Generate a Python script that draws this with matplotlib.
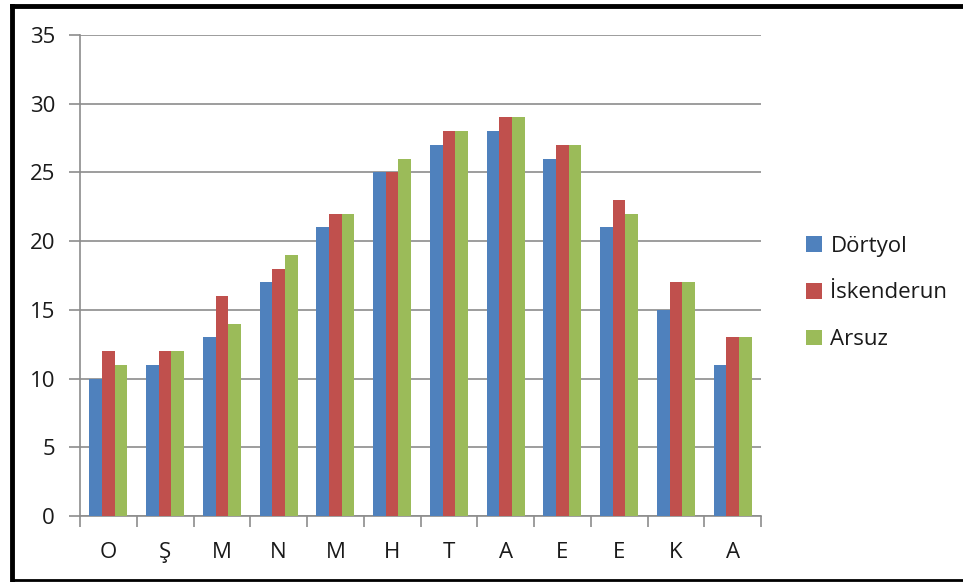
import matplotlib
matplotlib.use("Agg")
import matplotlib.pyplot as plt
import numpy as np
from matplotlib.lines import Line2D
from matplotlib.patches import Patch

months = ["O", "Ş", "M", "N", "M", "H", "T", "A", "E", "E", "K", "A"]
dortyol = [10, 11, 13, 17, 21, 25, 27, 28, 26, 21, 15, 11]
iskenderun = [12, 12, 16, 18, 22, 25, 28, 29, 27, 23, 17, 13]
arsuz = [11, 12, 14, 19, 22, 26, 28, 29, 27, 22, 17, 13]

series = [("Dörtyol", dortyol, "#4F81BD"),
          ("İskenderun", iskenderun, "#C0504D"),
          ("Arsuz", arsuz, "#9BBB59")]

plt.rcParams["font.family"] = ["Open Sans", "DejaVu Sans"]
plt.rcParams["text.color"] = "#1A1A1A"

W, H = 963, 582
fig = plt.figure(figsize=(W / 100, H / 100), dpi=100)
ax = fig.add_axes([80 / W, 1 - 516 / H, (761 - 80) / W, (516 - 35) / H])

x = np.arange(len(months))
bw = 0.223
for i, (name, vals, col) in enumerate(series):
    ax.bar(x + (i - 1) * bw, vals, width=bw, color=col, label=name, zorder=3)

ax.set_xlim(-0.5, len(months) - 0.5)
ax.set_ylim(0, 35)
ax.set_yticks(np.arange(0, 36, 5))
ax.yaxis.grid(True, color="#8C8C8C", linewidth=1.2, zorder=0)

# category boundaries get the tick marks, labels sit in the middle
ax.set_xticks(np.arange(-0.5, len(months), 1))
ax.set_xticklabels([])
ax.set_xticks(x, minor=True)
ax.set_xticklabels(months, minor=True)
ax.tick_params(axis="x", which="major", length=8, width=1.2, color="#8C8C8C", direction="out")
ax.tick_params(axis="x", which="minor", length=0, pad=19, labelsize=16, labelcolor="#1A1A1A")
ax.tick_params(axis="y", length=8, width=1.2, color="#8C8C8C", direction="out", pad=10,
               labelsize=16, labelcolor="#1A1A1A")

for side in ("top", "right"):
    ax.spines[side].set_visible(False)
for side in ("left", "bottom"):
    ax.spines[side].set_color("#8C8C8C")
    ax.spines[side].set_linewidth(1.2)

handles = [Patch(facecolor=c, label=n) for n, _, c in series]
fig.legend(handles=handles, loc="center left", bbox_to_anchor=(786 / W, 1 - 293 / H),
           frameon=False, fontsize=16, handlelength=0.7, handleheight=0.7,
           handletextpad=0.4, labelspacing=1.15)

# outer frame
frame = dict(color="black", transform=fig.transFigure, clip_on=False)
fig.add_artist(Line2D([12 / W, 12 / W], [1 - 6 / H, 1 - 580 / H], linewidth=3.5, **frame))
fig.add_artist(Line2D([12 / W, 1.0], [1 - 6 / H, 1 - 6 / H], linewidth=3.5, **frame))
fig.add_artist(Line2D([12 / W, 1.0], [1 - 580 / H, 1 - 580 / H], linewidth=2, **frame))

fig.savefig("out.png", dpi=100)
